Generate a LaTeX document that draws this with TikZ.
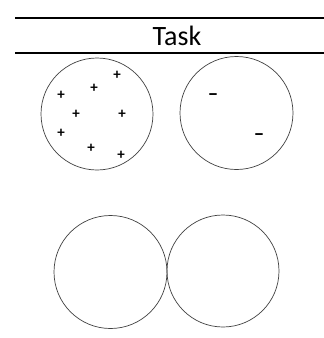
\documentclass[tikz,border=0pt]{standalone}
\usepackage{fontspec}
\setmainfont{Carlito}
\begin{document}
\begin{tikzpicture}[x=1pt,y=-1pt,
  rule/.style={line width=1.4pt},
  ring/.style={draw=black!75,line width=0.7pt},
  sign/.style={inner sep=0pt,font=\fontsize{15}{15}\selectfont\bfseries},
  minus/.style={inner sep=0pt,font=\fontsize{21}{21}\selectfont\bfseries}]
\useasboundingbox (0,0) rectangle (324,338);
\coordinate (r1a) at (15,18);
\coordinate (r1b) at (324,18);
\coordinate (r2a) at (15,53);
\coordinate (r2b) at (324,53);
\draw[rule] (r1a) -- (r1b);
\draw[rule] (r2a) -- (r2b);
\node[font=\fontsize{28}{28}\selectfont] (title) at (177,36) {Task};
\node[ring,circle,minimum size=112pt,inner sep=0pt] (c1) at (97,114) {};
\node[ring,circle,minimum size=113pt,inner sep=0pt] (c2) at (236.5,113) {};
\node[ring,circle,minimum size=113pt,inner sep=0pt] (c3) at (110.5,272) {};
\node[ring,circle,minimum size=112pt,inner sep=0pt] (c4) at (223,271) {};
\node[sign] (p1) at (117,75) {+};
\node[sign] (p2) at (94,88) {+};
\node[sign] (p3) at (61,95) {+};
\node[sign] (p4) at (76,114) {+};
\node[sign] (p5) at (122,114) {+};
\node[sign] (p6) at (61,133) {+};
\node[sign] (p7) at (91,148) {+};
\node[sign] (p8) at (121,155) {+};
\node[minus] (m1) at (213,97) {--};
\node[minus] (m2) at (259,137) {--};
\end{tikzpicture}
\end{document}
